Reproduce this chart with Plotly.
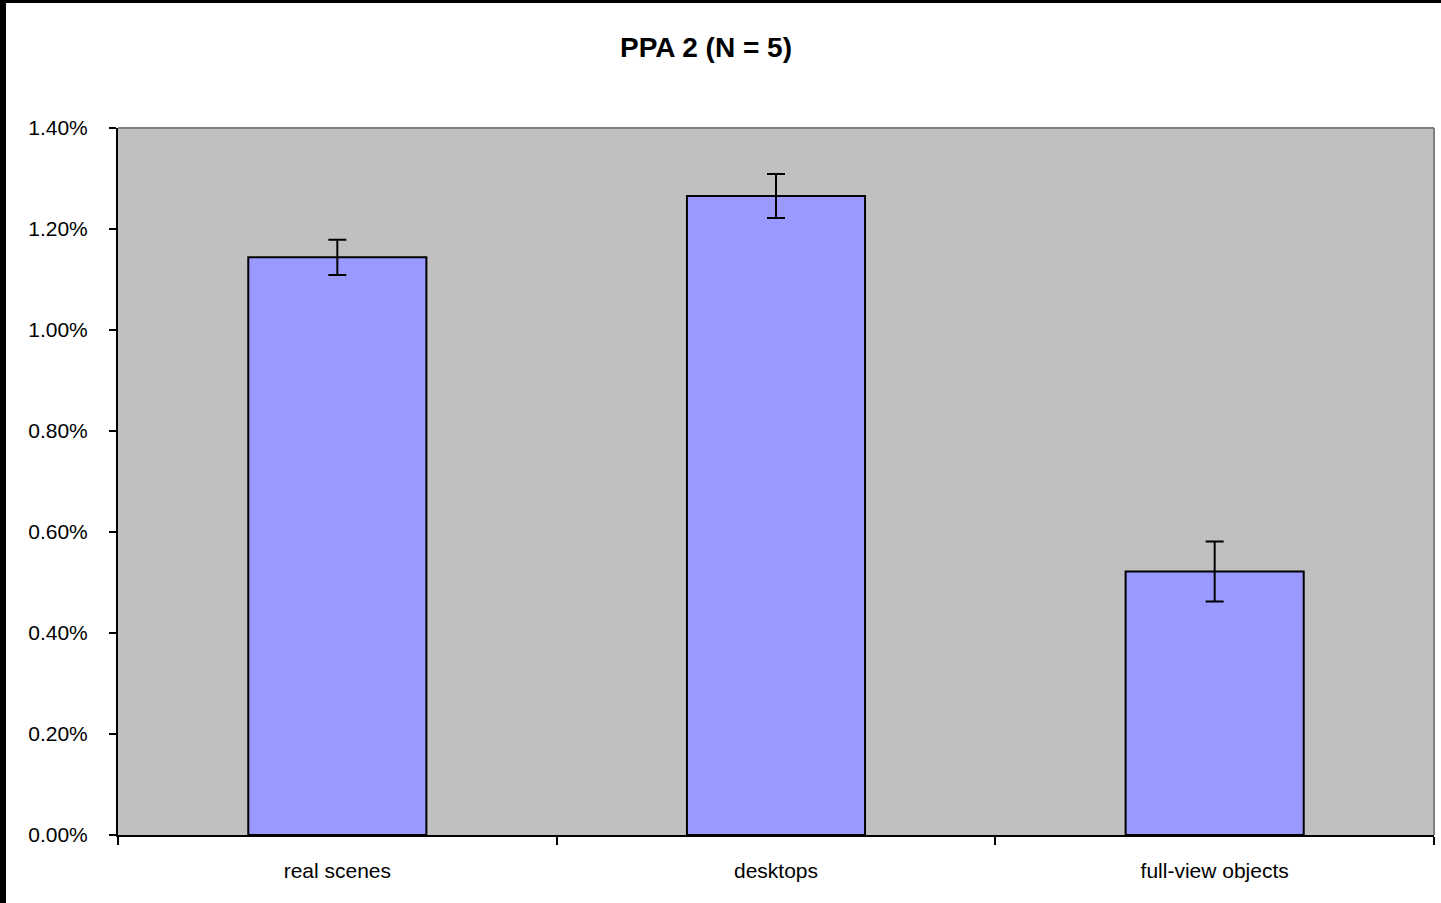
import plotly.graph_objects as go

categories = ["real scenes", "desktops", "full-view objects"]
values = [0.011439, 0.012653, 0.005218]
errors = [0.000350, 0.000436, 0.000594]
y_ticks = [0, 0.002, 0.004, 0.006, 0.008, 0.010, 0.012, 0.014]

W, H = 1441, 903
L, R, T, B = 118, 7, 128, 68
pw, ph = W - L - R, H - T - B

fig = go.Figure()
fig.add_trace(go.Bar(
    x=categories, y=values, width=0.406,
    marker=dict(color="#9999FF", line=dict(color="black", width=2)),
    error_y=dict(type="data", array=errors, visible=True, color="black", thickness=2, width=9),
))

def px_x(p):
    return (p - L) / pw

def px_y(p):
    return (H - B - p) / ph

shapes = [
    # plot-area gray border (top and right)
    dict(type="line", xref="paper", yref="paper", x0=0, x1=1, y0=1, y1=1, line=dict(color="#808080", width=2)),
    dict(type="line", xref="paper", yref="paper", x0=1, x1=1, y0=0, y1=1, line=dict(color="#808080", width=2)),
    # black frame edges of the image
    dict(type="rect", xref="paper", yref="paper", x0=px_x(-2), x1=px_x(6), y0=px_y(H + 2), y1=px_y(-2),
         fillcolor="black", line=dict(width=0)),
    dict(type="rect", xref="paper", yref="paper", x0=px_x(-2), x1=px_x(W + 2), y0=px_y(3), y1=px_y(-2),
         fillcolor="black", line=dict(width=0)),
]

fig.update_layout(
    width=W, height=H,
    margin=dict(l=L, r=R, t=T, b=B),
    paper_bgcolor="white", plot_bgcolor="#C0C0C0",
    font=dict(family="Arial, Liberation Sans", color="black", size=21),
    title=dict(text="<b>PPA 2 (N = 5)</b>", font=dict(size=28, color="black"),
               x=px_x(706), xref="paper", xanchor="center",
               y=1 - 47 / H, yref="container", yanchor="middle"),
    showlegend=False,
    shapes=shapes,
    xaxis=dict(type="category", showgrid=False, showline=True, linecolor="black", linewidth=2,
               ticks="outside", tickson="boundaries", ticklen=8, tickwidth=2, tickcolor="black",
               tickfont=dict(size=21), ticklabelstandoff=16),
    yaxis=dict(range=[0, 0.014], tickvals=y_ticks, tickformat=".2%", showgrid=False, zeroline=False,
               showline=True, linecolor="black", linewidth=2,
               ticks="outside", ticklen=7, tickwidth=2, tickcolor="black",
               tickfont=dict(size=21), ticklabelstandoff=17),
)

fig.write_html("out.html", config={"displayModeBar": False},
               post_script="document.body.style.margin='0';")
